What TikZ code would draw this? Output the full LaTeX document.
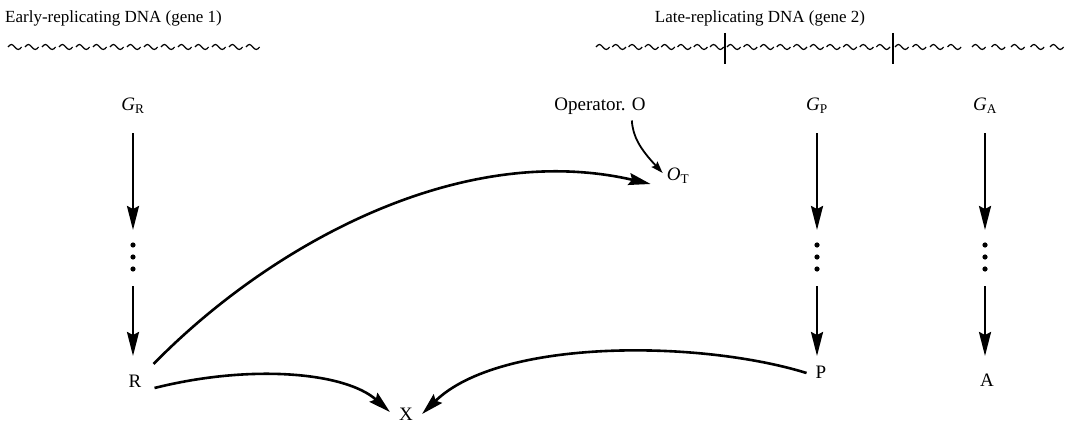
\documentclass[tikz,border=0pt]{standalone}
\usepackage{fontspec}
\setmainfont{Liberation Serif}
\usetikzlibrary{arrows.meta,calc}
\begin{document}
\begin{tikzpicture}[x=1pt,y=-1pt,
  lbl/.style={inner sep=0pt,font=\fontsize{17}{20}\selectfont},
  glbl/.style={inner sep=0pt,font=\fontsize{19}{22}\selectfont},
  varrow/.style={line width=2.4pt,-{Stealth[length=24pt,width=12pt,inset=3pt]}},
  carrow/.style={line width=2.6pt,-{Stealth[length=22pt,width=12pt,inset=3pt]}},
  sarrow/.style={line width=1.8pt,-{Stealth[length=12pt,width=8pt,inset=2pt]}},
  wave/.style={line width=1.2pt},
  tick/.style={line width=1.1pt}]
\useasboundingbox (0,0) rectangle (1067,425);
% titles
\node[lbl,anchor=west] (early) at (5,18) {Early-replicating DNA (gene 1)};
\node[lbl] (late) at (760,18) {Late-replicating DNA (gene 2)};
% DNA strands
\foreach \s/\n/\d in {8/14/17.0, 596/7/16.3, 727/9/16.6, 895/3/17.5, 972/4/19.5}{
  \foreach \x in {0,...,\n}{
    \draw[wave] ({\s+\d*\x},47) sin ({\s+\d*\x+3.4},44.5) cos ({\s+\d*\x+6.8},47) sin ({\s+\d*\x+10.2},49.5) cos ({\s+\d*\x+13.6},47);
  }
}
\draw[tick] (725,33) -- (725,64);
\draw[tick] (893,33) -- (893,64);
% gene labels
\node[glbl] (GR) at (133,106) {\textit{G}\textsubscript{R}};
\node[glbl] (op) at (600,106) {Operator. O};
\node[glbl] (OT) at (678,176) {\textit{O}\textsubscript{T}};
\node[glbl] (GP) at (817,106) {\textit{G}\textsubscript{P}};
\node[glbl] (GA) at (985,106) {\textit{G}\textsubscript{A}};
% products
\node[glbl] (R) at (135,381) {R};
\node[glbl] (P) at (821,372) {P};
\node[glbl] (A) at (987,380) {A};
\node[glbl] (X) at (406,414) {X};
% vertical pathways
\foreach \c/\g in {133/GR,817/GP,985/GA}{
  \coordinate (\g top) at (\c,133);
  \coordinate (\g mid) at (\c,230);
  \coordinate (\g low) at (\c,286);
  \coordinate (\g bot) at (\c,356);
  \draw[varrow] (\g top) -- (\g mid);
  \fill (\c,245) circle (2.6);
  \fill (\c,257) circle (2.6);
  \fill (\c,269) circle (2.6);
  \draw[varrow] (\g low) -- (\g bot);
}
% operator to O_T
\draw[sarrow] ([shift={(-14,6)}]op.south east) .. controls ([shift={(-13,22)}]op.south east) and ([shift={(-6,34)}]op.south east) .. ([shift={(-4,-3)}]OT.west);
% R to O_T
\draw[carrow] ([shift={(12,-17)}]R.east) .. controls (270,245) and (460,140) .. ([shift={(-16,8)}]OT.west);
% R to X
\draw[carrow] ([shift={(13,7)}]R.east) .. controls (250,364) and (345,372) .. ([shift={(-9,-2)}]X.west);
% P to X
\draw[carrow] ([shift={(-9,1)}]P.west) .. controls (700,340) and (500,338) .. ([shift={(9,0)}]X.east);
\end{tikzpicture}
\end{document}
